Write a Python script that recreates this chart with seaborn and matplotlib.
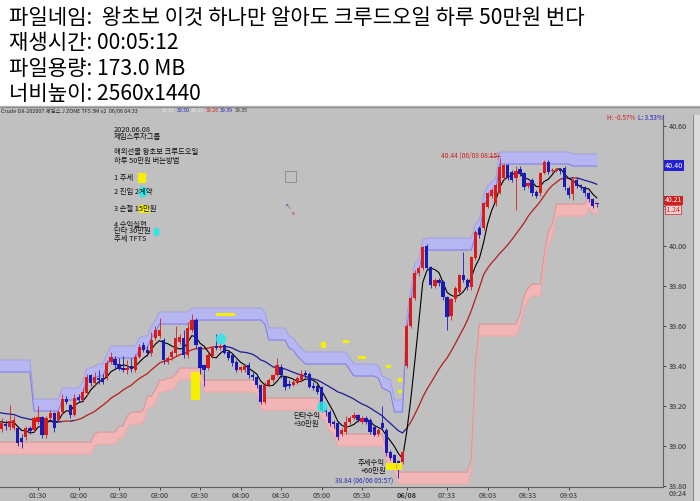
import numpy as np
import pandas as pd
import matplotlib
matplotlib.use("Agg")
import matplotlib.pyplot as plt
from matplotlib.patches import Rectangle, Ellipse
import seaborn as sns

# header text above the chart
header_lines = [
    "파일네임:  왕초보 이것 하나만 알아도 크루드오일 하루 50만원 번다",
    "재생시간: 00:05:12",
    "파일용량: 173.0 MB",
    "너비높이: 2560x1440",
]

# 3 minute candles, 06/06 01:00 .. 05:57 then 06/08 07:00 .. 09:24
opens = [
    39.11, 39.085, 39.11, 39.095, 39.09, 39.09, 39.04, 39.045, 39.09, 39.08,
    39.12, 39.145, 39.055, 39.14, 39.165, 39.13, 39.17, 39.235, 39.205, 39.155,
    39.245, 39.23, 39.265, 39.355, 39.315, 39.34, 39.34, 39.345, 39.42, 39.435,
    39.41, 39.39, 39.38, 39.40, 39.38, 39.445, 39.505, 39.48, 39.465, 39.54,
    39.55, 39.53, 39.42, 39.445, 39.465, 39.52, 39.54, 39.455, 39.58, 39.63,
    39.495, 39.405, 39.39, 39.45, 39.50, 39.49, 39.505, 39.47, 39.455, 39.42,
    39.38, 39.38, 39.405, 39.355, 39.345, 39.305, 39.22, 39.305, 39.33, 39.355,
    39.395, 39.345, 39.31, 39.305, 39.315, 39.33, 39.365, 39.36, 39.30, 39.30,
    39.295, 39.18, 39.17, 39.12, 39.115, 39.06, 39.07, 39.12, 39.14, 39.155,
    39.12, 39.14, 39.13, 39.095, 39.06, 39.115, 39.08, 38.97, 38.955, 38.925,
    38.92, 39.40, 39.60, 39.74, 39.865, 39.89, 40.00, 39.895, 39.80, 39.83,
    39.82, 39.745, 39.65, 39.735, 39.77, 39.855, 39.83, 39.795, 39.94, 40.09,
    40.09, 40.195, 40.25, 40.215, 40.265, 40.34, 40.405, 40.37, 40.34, 40.385,
    40.365, 40.30, 40.33, 40.27, 40.265, 40.365, 40.42, 40.375, 40.375, 40.385,
    40.39, 40.29, 40.26, 40.33, 40.30, 40.295, 40.265, 40.235, 40.21,
]
highs = [
    39.15, 39.14, 39.13, 39.205, 39.15, 39.10, 39.06, 39.10, 39.10, 39.15,
    39.20, 39.15, 39.15, 39.18, 39.17, 39.18, 39.26, 39.25, 39.21, 39.26,
    39.26, 39.29, 39.36, 39.36, 39.37, 39.38, 39.36, 39.43, 39.47, 39.45,
    39.44, 39.45, 39.43, 39.44, 39.46, 39.51, 39.52, 39.50, 39.57, 39.60,
    39.64, 39.54, 39.45, 39.48, 39.60, 39.56, 39.58, 39.62, 39.66, 39.64,
    39.50, 39.41, 39.47, 39.50, 39.56, 39.52, 39.51, 39.48, 39.46, 39.43,
    39.40, 39.41, 39.42, 39.37, 39.36, 39.31, 39.32, 39.34, 39.36, 39.44,
    39.41, 39.35, 39.33, 39.33, 39.35, 39.38, 39.38, 39.37, 39.32, 39.31,
    39.30, 39.19, 39.18, 39.13, 39.12, 39.09, 39.15, 39.15, 39.17, 39.16,
    39.15, 39.15, 39.14, 39.10, 39.09, 39.20, 39.09, 38.98, 38.96, 38.93,
    38.98, 39.61, 39.75, 39.88, 39.90, 40.00, 40.01, 39.90, 39.84, 39.84,
    39.83, 39.75, 39.74, 39.80, 39.86, 39.97, 39.84, 39.95, 40.08, 40.10,
    40.22, 40.27, 40.29, 40.31, 40.44, 40.41, 40.41, 40.38, 40.40, 40.40,
    40.37, 40.32, 40.34, 40.28, 40.37, 40.43, 40.43, 40.39, 40.39, 40.39,
    40.40, 40.30, 40.34, 40.34, 40.31, 40.30, 40.27, 40.24, 40.215,
]
lows = [
    39.09, 39.07, 39.08, 39.08, 39.08, 39.00, 38.99, 39.03, 39.06, 39.07,
    39.11, 39.04, 39.04, 39.13, 39.07, 39.12, 39.16, 39.21, 39.14, 39.15,
    39.22, 39.22, 39.25, 39.30, 39.30, 39.31, 39.31, 39.33, 39.41, 39.39,
    39.38, 39.37, 39.36, 39.37, 39.37, 39.44, 39.47, 39.45, 39.45, 39.53,
    39.54, 39.41, 39.41, 39.43, 39.45, 39.51, 39.44, 39.44, 39.57, 39.49,
    39.36, 39.30, 39.38, 39.44, 39.48, 39.48, 39.46, 39.43, 39.40, 39.37,
    39.37, 39.37, 39.34, 39.33, 39.29, 39.21, 39.21, 39.30, 39.32, 39.35,
    39.34, 39.28, 39.29, 39.30, 39.31, 39.32, 39.34, 39.29, 39.28, 39.26,
    39.17, 39.15, 39.10, 39.09, 39.03, 39.05, 39.06, 39.11, 39.13, 39.12,
    39.11, 39.11, 39.06, 39.05, 39.05, 39.08, 38.95, 38.93, 38.90, 38.84,
    38.91, 39.39, 39.59, 39.73, 39.85, 39.88, 39.88, 39.79, 39.79, 39.80,
    39.73, 39.58, 39.63, 39.72, 39.76, 39.82, 39.78, 39.78, 39.93, 40.04,
    40.08, 40.19, 40.24, 40.20, 40.26, 40.33, 40.33, 40.32, 40.18, 40.35,
    40.28, 40.29, 40.25, 40.24, 40.25, 40.36, 40.36, 40.37, 40.37, 40.36,
    40.28, 40.24, 40.23, 40.29, 40.28, 40.25, 40.22, 40.19, 40.195,
]
closes = [
    39.13, 39.115, 39.10, 39.125, 39.13, 39.015, 39.02, 39.09, 39.075, 39.14,
    39.145, 39.055, 39.14, 39.165, 39.09, 39.17, 39.235, 39.22, 39.155, 39.24,
    39.23, 39.27, 39.345, 39.315, 39.345, 39.33, 39.32, 39.415, 39.445, 39.405,
    39.385, 39.38, 39.39, 39.385, 39.445, 39.495, 39.48, 39.465, 39.53, 39.58,
    39.58, 39.43, 39.44, 39.47, 39.54, 39.545, 39.455, 39.59, 39.63, 39.505,
    39.39, 39.38, 39.455, 39.49, 39.49, 39.50, 39.465, 39.44, 39.415, 39.38,
    39.395, 39.40, 39.355, 39.345, 39.305, 39.22, 39.305, 39.33, 39.355, 39.405,
    39.355, 39.295, 39.30, 39.32, 39.34, 39.36, 39.355, 39.295, 39.29, 39.27,
    39.18, 39.17, 39.115, 39.11, 39.045, 39.08, 39.12, 39.14, 39.155, 39.13,
    39.14, 39.12, 39.07, 39.055, 39.08, 39.09, 38.965, 38.94, 38.915, 38.90,
    38.97, 39.60, 39.74, 39.865, 39.89, 39.995, 39.89, 39.805, 39.83, 39.815,
    39.745, 39.645, 39.735, 39.79, 39.855, 39.83, 39.795, 39.945, 40.07, 40.055,
    40.215, 40.265, 40.28, 40.305, 40.395, 40.405, 40.34, 40.33, 40.375, 40.36,
    40.295, 40.315, 40.265, 40.25, 40.365, 40.42, 40.37, 40.38, 40.385, 40.375,
    40.295, 40.255, 40.33, 40.30, 40.295, 40.265, 40.235, 40.20, 40.205,
]

# indicator settings
channel_len = 18
long_ma_len = 20
short_ma_len = 5
long_ma_seed = 39.17     # level of the long average where the chart starts
short_ma_seed = 39.12
pre_high, pre_high_bars = 39.40, 9   # upper channel carried in from before the window
pre_low, pre_low_bars = 38.99, 6

tick_bars = [10, 20, 30, 40, 50, 60, 70, 80, 90, 101, 111, 121, 131, 141]
tick_labels = ["01:30", "02:00", "02:30", "03:00", "03:30", "04:00", "04:30",
               "05:00", "05:30", "06/08", "07:33", "08:03", "08:33", "09:03"]
price_ticks = [38.80, 39.00, 39.20, 39.40, 39.60, 39.80, 40.00, 40.20, 40.40, 40.60]
hidden_price_labels = [40.20, 40.40]   # covered by the price boxes on the axis

# yellow highlight boxes (bar0, bar1, price0, price1) and cyan dots (bar, price)
yellow_boxes = [
    (53.9, 58.6, 39.650, 39.665), (47.9, 49.9, 39.23, 39.37),
    (79.9, 81.0, 39.49, 39.52), (85.3, 86.8, 39.517, 39.530),
    (88.9, 91.0, 39.437, 39.452), (96.0, 97.2, 39.39, 39.405),
    (99.0, 99.9, 39.32, 39.338), (99.0, 99.9, 39.265, 39.28),
    (96.0, 98.3, 38.88, 38.915), (98.6, 99.9, 38.88, 38.915),
]
cyan_dots = [(55.2, 39.535), (80.2, 39.195)]

RED = "#d81c1c"
BLUE = "#1a1ab4"
GRAY = "#c0c0c0"

sns.set_theme(style="white")
plt.rcParams["font.family"] = ["Noto Sans CJK KR", "DejaVu Sans"]

df = pd.DataFrame({"bar": np.arange(len(closes)), "open": opens, "high": highs,
                   "low": lows, "close": closes})

# channel (highest high / lowest low) bands
hh = df["high"].rolling(channel_len, min_periods=1).max()
ll = df["low"].rolling(channel_len, min_periods=1).min()
hh.iloc[:pre_high_bars] = np.maximum(hh.iloc[:pre_high_bars], pre_high)
ll.iloc[:pre_low_bars] = np.minimum(ll.iloc[:pre_low_bars], pre_low)

# moving averages
ext_long = pd.Series([long_ma_seed] * (long_ma_len - 1) + closes)
df["ma_long"] = ext_long.rolling(long_ma_len).mean().iloc[long_ma_len - 1:].to_numpy()
ext_short = pd.Series([short_ma_seed] * (short_ma_len - 1) + closes)
df["ma_short"] = ext_short.rolling(short_ma_len).mean().iloc[short_ma_len - 1:].to_numpy()

# split the long average into rising (red) / falling (blue) runs
slope = df["ma_long"].diff().bfill()
trend = np.where(slope >= 0, "up", "down")
rows = []
seg = 0
for i in range(len(df)):
    if i > 0 and trend[i] != trend[i - 1]:
        rows.append((df["bar"][i], df["ma_long"][i], trend[i - 1], seg))
        seg += 1
    rows.append((df["bar"][i], df["ma_long"][i], trend[i], seg))
ma_df = pd.DataFrame(rows, columns=["bar", "ma", "trend", "seg"])

W, H = 700, 501
fig = plt.figure(figsize=(W / 100, H / 100), dpi=100)
fig.patch.set_facecolor("white")


def fx(px):
    return px / W


def fy(py):
    return 1 - py / H


def ftext(x, y, s, **kw):
    kw.setdefault("va", "center")
    fig.text(fx(x), fy(y), s, **kw)


# chart window background
fig.add_artist(Rectangle((0, 0), 1, fy(106), transform=fig.transFigure,
                         color=GRAY, zorder=-10))
fig.add_artist(plt.Line2D([0, 1], [fy(106.5)] * 2, transform=fig.transFigure,
                          color="#8a8a8a", lw=1))
fig.add_artist(Rectangle((fx(693), 0), fx(7), fy(115), transform=fig.transFigure,
                         color="#dcdcdc", zorder=-9))
fig.add_artist(plt.Line2D([fx(692.5)] * 2, [0, fy(115)], transform=fig.transFigure,
                          color="#8a8a8a", lw=0.8))

for k, line in enumerate(header_lines):
    ftext(9, 18 + k * 25.3, line, fontsize=15.2, color="black")

ax = fig.add_axes([0, fy(487), fx(663), (487 - 115) / H])
ax.set_facecolor("none")
ax.set_xlim((0 + 2.5) / 4.05, (663 + 2.5) / 4.05)
ax.set_ylim(40 - (487 - 246) / 200, 40 + (246 - 115) / 200)

# bands
ax.fill_between(df["bar"], hh - 0.03, hh + 0.03, color="#b6b6f2", lw=0, zorder=1)
ax.plot(df["bar"], hh - 0.03, color="#7a7ae6", lw=0.7, zorder=1.5)
ax.plot(df["bar"], hh + 0.03, color="#9a9aec", lw=0.6, zorder=1.5)
ax.fill_between(df["bar"], ll - 0.03, ll + 0.03, color="#f3b6b6", lw=0, zorder=1)
ax.plot(df["bar"], ll + 0.03, color="#e48c8c", lw=0.6, zorder=1.5)
ax.plot(df["bar"], ll - 0.03, color="#eaa2a2", lw=0.5, zorder=1.5)

# moving averages
sns.lineplot(data=ma_df, x="bar", y="ma", hue="trend", units="seg", estimator=None,
             palette={"up": "#b41e1e", "down": "#1c1c96"}, lw=0.9, legend=False,
             ax=ax, zorder=3)
sns.lineplot(data=df, x="bar", y="ma_short", color="black", lw=0.8, ax=ax, zorder=3.5)

# candles
up = df["close"] >= df["open"]
colors = np.where(up, RED, BLUE)
body = (df["close"] - df["open"]).to_numpy()
body = np.where(np.abs(body) < 0.007, 0.007, body)
ax.vlines(df["bar"], df["low"], df["high"], colors=colors, lw=0.6, zorder=4)
ax.bar(df["bar"], body, bottom=df["open"], width=0.8, color=colors, lw=0, zorder=5)

# highlights
for b0, b1, p0, p1 in yellow_boxes:
    ax.add_patch(Rectangle((b0, p0), b1 - b0, p1 - p0, color="#f4f000", lw=0, zorder=6))
for b, p in cyan_dots:
    ax.add_patch(Ellipse((b, p), 2.6, 0.055, color="#30e6e6", alpha=0.85, lw=0, zorder=6))

# axes styling
for side in ["left", "top"]:
    ax.spines[side].set_visible(False)
for side in ["right", "bottom"]:
    ax.spines[side].set_color("#606060")
    ax.spines[side].set_linewidth(0.8)
ax.yaxis.tick_right()
ax.set_yticks(price_ticks, ["" if p in hidden_price_labels else f"{p:.2f}"
                            for p in price_ticks])
ax.set_xticks(tick_bars, tick_labels)
ax.tick_params(axis="y", length=2.5, width=0.6, labelsize=5.2, pad=1.5,
               colors="#303030", right=True)
ax.tick_params(axis="x", length=2, width=0.6, labelsize=5.2, pad=1.5,
               colors="#303030", bottom=True)
for lab in ax.get_xticklabels():
    if lab.get_text() == "06/08":
        lab.set_fontweight("bold")
ax.set_xlabel("")
ax.set_ylabel("")
ax.grid(False)

# right axis price boxes
ftext(665, 165.5, "40.40", fontsize=5.2, color="white",
      bbox=dict(boxstyle="square,pad=0.15", fc="#2020d0", ec="none"))
ftext(665, 200.5, "40.21", fontsize=5.0, color="white",
      bbox=dict(boxstyle="square,pad=0.1", fc="#d02020", ec="none"))
ftext(665, 209.5, "-1.24", fontsize=5.0, color="#d02020",
      bbox=dict(boxstyle="square,pad=0.05", fc="#f2d0d0", ec="#d02020", lw=0.5))
ftext(669, 494, "09:24", fontsize=5.2, color="#303030")

# title bar of the chart window
ftext(1, 110.5, "Crude Oil-202007 제임스 J ZONE TF5 3M v2  06/06 04:33", fontsize=3.9,
      color="#202020")
for x, s, c in [(162, "39.51", "#e8e8e8"), (176.5, "39.50", "#2020c0"),
                (191, "39.21", "#e8e8e8"), (205.5, "39.26", "#d02020"),
                (220, "39.39", "#2020c0"), (234.5, "39.35", "#303030")]:
    ftext(x, 110.5, s, fontsize=3.8, color=c)
ftext(607, 117.5, "H: -0.57%", fontsize=4.6, color="#d02020")
ftext(638, 117.5, "L: 3.53%", fontsize=4.6, color="#2020c0")

# notes written on the chart
notes = [
    (114, 129.5, "2020.06.08"), (114, 137, "제임스투자그룹"),
    (114, 152.5, "해외선물 왕초보 크루드오일"), (114, 160.5, "하루 50만원 버는방법"),
    (114, 178, "1 추세"), (114, 192, "2 진입 2계약"), (114, 209, "3 손절 15만원"),
    (114, 224.5, "4 수익실현"), (114, 231.5, "단타 30만원"), (114, 238.5, "추세 TFTS"),
    (293, 416, "단타수익"), (294, 424, "+30만원"),
    (358, 463, "추세수익"), (361, 471, "+60만원"),
]
fig.add_artist(Rectangle((fx(138), fy(183)), fx(8), 10 / H, transform=fig.transFigure,
                         color="#f4f000", lw=0, zorder=2))
fig.add_artist(Rectangle((fx(139), fy(213)), fx(10), 8 / H, transform=fig.transFigure,
                         color="#f4f000", lw=0, zorder=2))
fig.add_artist(Ellipse((fx(143), fy(192)), fx(9), 11 / H, transform=fig.transFigure,
                       color="#30e6e6", lw=0, zorder=2))
fig.add_artist(Ellipse((fx(156.5), fy(232)), fx(6), 9 / H, transform=fig.transFigure,
                       color="#30e6e6", lw=0, zorder=2))
for x, y, s in notes:
    ftext(x, y, s, fontsize=5.3, color="#101010", zorder=3)

ftext(441, 155.5, "40.44 (06/08 08:15)", fontsize=4.8, color="#d02020")
fig.add_artist(plt.Line2D([fx(489), fx(500)], [fy(156)] * 2, transform=fig.transFigure,
                          color="#d02020", lw=0.5))
ftext(335, 480.5, "38.84 (06/06 05:57)", fontsize=4.8, color="#2828b0")

# small box and cursor left on the screen
fig.add_artist(Rectangle((fx(285), fy(182)), fx(11), 11 / H, transform=fig.transFigure,
                         fill=False, ec="#8a8a8a", lw=0.6))
ftext(285, 207.5, "↖", fontsize=5, color="#6060a0")
ftext(291.5, 213.5, "x", fontsize=4, color="#d02020")

fig.savefig("out.png", dpi=100)
